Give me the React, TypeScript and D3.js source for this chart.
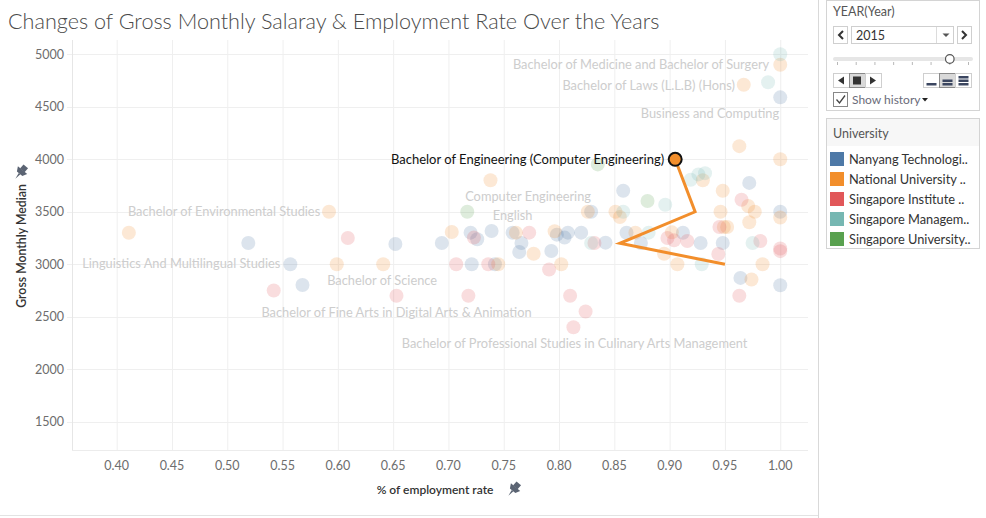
import { useRef, useEffect } from 'react';
import * as d3 from 'd3';

// universities (legend order) and their Tableau 10 colours
const universities = [
    'Nanyang Technological University',
    'National University of Singapore',
    'Singapore Institute of Technology',
    'Singapore Management University',
    'Singapore University of Technology and Design',
];
const legendLabels = [
    'Nanyang Technologi..',
    'National University ..',
    'Singapore Institute ..',
    'Singapore Managem..',
    'Singapore University..',
];
const uniColors = ['#4e79a7', '#f28e2b', '#e15759', '#76b7b2', '#59a14f'];

// [employment rate, gross monthly median] for every degree, year 2015
const ntuPoints: [number, number][] = [
    [1.0, 4590], [0.972, 3775], [0.858, 3700], [1.0, 3500], [0.861, 3300], [0.912, 3300],
    [0.842, 3206], [0.874, 3202], [0.928, 3202], [0.948, 3202], [0.964, 2870], [1.0, 2800],
    [0.829, 3500], [0.72, 3301], [0.726, 3238], [0.739, 3317], [0.758, 3301], [0.798, 3282],
    [0.808, 3301], [0.805, 3254], [0.82, 3301], [0.694, 3202], [0.766, 3202], [0.764, 3117],
    [0.793, 3126], [0.721, 3000], [0.742, 3000], [0.519, 3202], [0.652, 3193], [0.557, 3000],
    [0.568, 2803],
];
const nusPoints: [number, number][] = [
    [1.0, 4900], [0.967, 4710], [0.963, 4125], [1.0, 4000], [0.93, 3800], [0.948, 3700],
    [0.971, 3555], [0.977, 3500], [0.946, 3500], [1.0, 3445], [0.972, 3400], [0.851, 3500],
    [0.855, 3450], [0.949, 3355], [0.952, 3355], [0.869, 3301], [0.902, 3304], [0.895, 3100],
    [0.907, 3000], [0.984, 3000], [0.974, 2855], [0.738, 3800], [0.826, 3500], [0.703, 3307],
    [0.761, 3301], [0.796, 3314], [0.777, 3100], [0.745, 3000], [0.802, 3000], [0.592, 3500],
    [0.411, 3300], [0.599, 3000], [0.641, 3000],
];
const sitPoints: [number, number][] = [
    [0.965, 3615], [0.945, 3355], [0.898, 3250], [0.904, 3228], [0.916, 3221], [0.982, 3221],
    [1.0, 3150], [1.0, 3125], [0.944, 3098], [0.963, 2700], [0.723, 3254], [0.773, 3301],
    [0.832, 3202], [0.707, 3000], [0.736, 3000], [0.791, 2950], [0.718, 2700], [0.81, 2700],
    [0.824, 2550], [0.813, 2400], [0.609, 3250], [0.542, 2750], [0.653, 2700],
];
const smuPoints: [number, number][] = [
    [1.0, 5000], [0.989, 4733], [0.919, 3805], [0.926, 3856], [0.932, 3868], [0.896, 3567],
    [0.858, 3500], [0.881, 3301], [0.975, 3202], [0.929, 3000], [0.829, 3202],
];
const sutdPoints: [number, number][] = [
    [0.835, 3951], [0.88, 3602], [0.717, 3500],
];
const pointsByUni = [ntuPoints, nusPoints, sitPoints, smuPoints, sutdPoints];

// highlighted degree (NUS) with its history trail
const highlightDegree = 'Bachelor of Engineering (Computer Engineering)';
const historyYears = [2012, 2013, 2014, 2015];
const historyRate = [0.95, 0.855, 0.923, 0.905];
const historySalary = [3000, 3200, 3500, 4000];

// faded degree labels: text, position (rate, salary) and anchor
const fadedLabels: { text: string; rate: number; salary: number; anchor: string }[] = [
    { text: 'Bachelor of Medicine and Bachelor of Surgery', rate: 0.99, salary: 4898, anchor: 'end' },
    { text: 'Bachelor of Laws (L.L.B) (Hons)', rate: 0.959, salary: 4701, anchor: 'end' },
    { text: 'Business and Computing', rate: 0.999, salary: 4434, anchor: 'end' },
    { text: 'Computer Engineering', rate: 0.772, salary: 3650, anchor: 'middle' },
    { text: 'English', rate: 0.758, salary: 3460, anchor: 'middle' },
    { text: 'Bachelor of Environmental Studies', rate: 0.584, salary: 3498, anchor: 'end' },
    { text: 'Linguistics And Multilingual Studies', rate: 0.548, salary: 3003, anchor: 'end' },
    { text: 'Bachelor of Science', rate: 0.64, salary: 2844, anchor: 'middle' },
    { text: 'Bachelor of Fine Arts in Digital Arts & Animation', rate: 0.653, salary: 2539, anchor: 'middle' },
    { text: 'Bachelor of Professional Studies in Culinary Arts Management', rate: 0.814, salary: 2241, anchor: 'middle' },
];

const xTickValues = [0.4, 0.45, 0.5, 0.55, 0.6, 0.65, 0.7, 0.75, 0.8, 0.85, 0.9, 0.95, 1.0];
const yTickValues = [1500, 2000, 2500, 3000, 3500, 4000, 4500, 5000];
const sliderYears = [2009, 2010, 2011, 2012, 2013, 2014, 2015, 2016];
const currentYear = 2015;

const FONT = "Lato, 'Open Sans', sans-serif";

function drawPin(g: any, x: number, y: number) {
    const pin = g.append('g').attr('transform', `translate(${x},${y}) rotate(40) scale(1.35)`).attr('fill', '#5b6473');
    pin.append('rect').attr('x', -2.2).attr('y', -5.5).attr('width', 4.4).attr('height', 4);
    pin.append('path').attr('d', 'M-4.5,-1.8 L4.5,-1.8 L2.6,1.6 L-2.6,1.6 Z');
    pin.append('path').attr('d', 'M-0.8,1.6 L0.8,1.6 L0,6.5 Z');
}

export default function App() {
    const svgRef = useRef<SVGSVGElement>(null);

    useEffect(() => {
        if (!svgRef.current) return;
        const svg = d3.select(svgRef.current);
        svg.selectAll('*').remove();

        const plot = { left: 72, right: 808, top: 40, bottom: 450 };
        const x = d3.scaleLinear().domain([0.3596, 1.0251]).range([plot.left, plot.right]);
        const y = d3.scaleLinear().domain([1231, 5136]).range([plot.bottom, plot.top]);

        // frame
        svg.append('rect').attr('width', 986).attr('height', 518).attr('fill', '#fff');
        svg.append('line').attr('x1', 818.5).attr('x2', 818.5).attr('y1', 0).attr('y2', 518).attr('stroke', '#d9d9d9');
        svg.append('line').attr('x1', 0).attr('x2', 818).attr('y1', 515.5).attr('y2', 515.5).attr('stroke', '#e3e3e3');

        // title
        svg.append('text')
            .attr('x', 8).attr('y', 29)
            .attr('font-family', FONT).attr('font-size', '21.6px').attr('font-weight', 300)
            .attr('fill', '#4a4a4a')
            .text('Changes of Gross Monthly Salaray & Employment Rate Over the Years');

        const g = svg.append('g');

        // grid
        g.append('g').selectAll('line').data(xTickValues).enter().append('line')
            .attr('x1', d => x(d) + 0.5).attr('x2', d => x(d) + 0.5)
            .attr('y1', plot.top).attr('y2', plot.bottom)
            .attr('stroke', '#efefef');
        g.append('g').selectAll('line').data(yTickValues).enter().append('line')
            .attr('x1', plot.left - 5).attr('x2', plot.right)
            .attr('y1', d => Math.round(y(d)) + 0.5).attr('y2', d => Math.round(y(d)) + 0.5)
            .attr('stroke', '#efefef');
        g.append('line').attr('x1', plot.left + 0.5).attr('x2', plot.left + 0.5)
            .attr('y1', plot.top).attr('y2', plot.bottom).attr('stroke', '#e6e6e6');
        g.append('line').attr('x1', plot.left).attr('x2', plot.right)
            .attr('y1', plot.bottom + 0.5).attr('y2', plot.bottom + 0.5).attr('stroke', '#ececec');

        // tick labels
        g.append('g').selectAll('text').data(yTickValues).enter().append('text')
            .attr('x', 64).attr('y', d => y(d) + 4.5)
            .attr('text-anchor', 'end')
            .attr('font-family', FONT).attr('font-size', '12.5px').attr('fill', '#6d6d6d')
            .text(d => d3.format('d')(d));
        g.append('g').selectAll('text').data(xTickValues).enter().append('text')
            .attr('x', d => x(d)).attr('y', 470)
            .attr('text-anchor', 'middle')
            .attr('font-family', FONT).attr('font-size', '12.5px').attr('fill', '#6d6d6d')
            .text(d => d3.format('.2f')(d));

        // axis titles
        svg.append('text')
            .attr('transform', 'translate(26,246) rotate(-90)')
            .attr('text-anchor', 'middle')
            .attr('font-family', FONT).attr('font-size', '12.3px').attr('font-weight', 600).attr('fill', '#333')
            .text('Gross Monthly Median');
        drawPin(svg, 21, 172);
        svg.append('text')
            .attr('x', 435).attr('y', 494)
            .attr('text-anchor', 'middle')
            .attr('font-family', FONT).attr('font-size', '12px').attr('font-weight', 600).attr('fill', '#333')
            .text('% of employment rate');
        drawPin(svg, 514, 489);

        // faded marks
        pointsByUni.forEach((pts, i) => {
            g.append('g').selectAll('circle').data(pts).enter().append('circle')
                .attr('cx', d => x(d[0])).attr('cy', d => y(d[1])).attr('r', 7)
                .attr('fill', uniColors[i]).attr('fill-opacity', 0.2);
        });

        // faded labels
        g.append('g').selectAll('text').data(fadedLabels).enter().append('text')
            .attr('x', d => x(d.rate)).attr('y', d => y(d.salary) + 4.5)
            .attr('text-anchor', d => d.anchor)
            .attr('font-family', FONT).attr('font-size', '12.8px').attr('fill', '#cdcdcd')
            .text(d => d.text);

        // history trail
        const trail = historyYears.map((yr, i) => ({ yr, rate: historyRate[i], salary: historySalary[i] }));
        const line = d3.line<{ rate: number; salary: number }>().x(d => x(d.rate)).y(d => y(d.salary));
        g.append('path').datum(trail).attr('d', line)
            .attr('fill', 'none').attr('stroke', uniColors[1]).attr('stroke-width', 3)
            .attr('stroke-linejoin', 'miter');
        const last = trail[trail.length - 1];
        g.append('circle')
            .attr('cx', x(last.rate)).attr('cy', y(last.salary)).attr('r', 6.5)
            .attr('fill', uniColors[1]).attr('stroke', '#111').attr('stroke-width', 2);
        g.append('text')
            .attr('x', x(last.rate) - 11).attr('y', y(last.salary) + 4.5)
            .attr('text-anchor', 'end')
            .attr('font-family', FONT).attr('font-size', '13px').attr('fill', '#111')
            .text(highlightDegree);

        // ---- side panel: year control ----
        const panel = svg.append('g').attr('font-family', FONT);
        panel.append('rect').attr('x', 826.5).attr('y', 0.5).attr('width', 153).attr('height', 110)
            .attr('fill', '#fff').attr('stroke', '#d4d4d4');
        panel.append('text').attr('x', 833).attr('y', 16).attr('font-size', '12.5px').attr('fill', '#555')
            .text('YEAR(Year)');

        const btn = (bx: number, by: number, w: number, h: number, active = false) =>
            panel.append('rect').attr('x', bx + 0.5).attr('y', by + 0.5).attr('width', w).attr('height', h)
                .attr('fill', active ? '#d9d9d9' : '#fff').attr('stroke', active ? '#8a8a8a' : '#cfcfcf');

        btn(833, 26, 14, 17);
        panel.append('path').attr('d', 'M843,31 L839,35 L843,39').attr('fill', 'none').attr('stroke', '#333').attr('stroke-width', 2);
        btn(851, 26, 102, 17);
        panel.append('text').attr('x', 856).attr('y', 39.5).attr('font-size', '12.5px').attr('fill', '#333').text(String(currentYear));
        panel.append('line').attr('x1', 936.5).attr('x2', 936.5).attr('y1', 27).attr('y2', 43).attr('stroke', '#dcdcdc');
        panel.append('path').attr('d', 'M942.5,33.5 L949.5,33.5 L946,37 Z').attr('fill', '#555');
        btn(957, 26, 14, 17);
        panel.append('path').attr('d', 'M962,31 L966,35 L962,39').attr('fill', 'none').attr('stroke', '#333').attr('stroke-width', 2);

        // slider
        const sx = d3.scalePoint<number>().domain(sliderYears).range([837.5, 968.5]);
        panel.append('rect').attr('x', 833).attr('y', 57).attr('width', 140).attr('height', 4).attr('rx', 2).attr('fill', '#e6e6e6');
        panel.append('g').selectAll('line').data(sliderYears).enter().append('line')
            .attr('x1', d => sx(d) ?? 0).attr('x2', d => sx(d) ?? 0)
            .attr('y1', 62).attr('y2', 65).attr('stroke', '#b8b8b8');
        panel.append('circle').attr('cx', sx(currentYear) ?? 0).attr('cy', 59).attr('r', 4.3)
            .attr('fill', '#fff').attr('stroke', '#555').attr('stroke-width', 1.2);

        // play controls
        btn(833, 73, 16, 14);
        panel.append('path').attr('d', 'M844,76.5 L838,80.5 L844,84.5 Z').attr('fill', '#333');
        btn(849, 73, 16, 14, true);
        panel.append('rect').attr('x', 853).attr('y', 76.5).attr('width', 8).attr('height', 8).attr('fill', '#333');
        btn(865, 73, 16, 14);
        panel.append('path').attr('d', 'M870,76.5 L876,80.5 L870,84.5 Z').attr('fill', '#333');

        // speed buttons
        [0, 1, 2].forEach(k => {
            const bx = 923 + k * 16;
            btn(bx, 73, 16, 14, k === 1);
            for (let b = 0; b <= k; b++) {
                panel.append('rect').attr('x', bx + 3.5).attr('y', 83 - b * 3.5).attr('width', 10).attr('height', 2.5)
                    .attr('fill', '#3b4660');
            }
        });

        // show history
        panel.append('rect').attr('x', 833.5).attr('y', 92.5).attr('width', 14).attr('height', 14).attr('fill', '#fff').attr('stroke', '#888');
        panel.append('path').attr('d', 'M836.5,99.5 L839.5,103 L845,95.5').attr('fill', 'none').attr('stroke', '#444').attr('stroke-width', 1.3);
        panel.append('text').attr('x', 852).attr('y', 104).attr('font-size', '12px').attr('fill', '#6b6b7a').text('Show history');
        panel.append('path').attr('d', 'M922,98 L928,98 L925,101.5 Z').attr('fill', '#222');

        // ---- side panel: colour legend ----
        panel.append('rect').attr('x', 826.5).attr('y', 118.5).attr('width', 153).attr('height', 130)
            .attr('fill', '#fff').attr('stroke', '#d4d4d4');
        panel.append('rect').attr('x', 827).attr('y', 119).attr('width', 152).attr('height', 27).attr('fill', '#f7f7f7');
        panel.append('text').attr('x', 833).attr('y', 138).attr('font-size', '12.5px').attr('fill', '#555').text('University');

        const ly = d3.scalePoint<string>().domain(universities).range([159, 239]);
        const items = panel.append('g').selectAll('g').data(universities).enter().append('g')
            .attr('transform', d => `translate(0,${ly(d)})`);
        items.append('rect').attr('x', 830).attr('y', -7).attr('width', 14).attr('height', 14)
            .attr('fill', (_, i) => uniColors[i]);
        items.append('text').attr('x', 849).attr('y', 4.5).attr('font-size', '12.8px').attr('fill', '#333')
            .text((_, i) => legendLabels[i]);
    }, []);

    return (
        <div style={{ width: 986, height: 518 }}>
            <style>{'body{margin:0}'}</style>
            <svg ref={svgRef} width={986} height={518} style={{ display: 'block' }} />
        </div>
    );
}
